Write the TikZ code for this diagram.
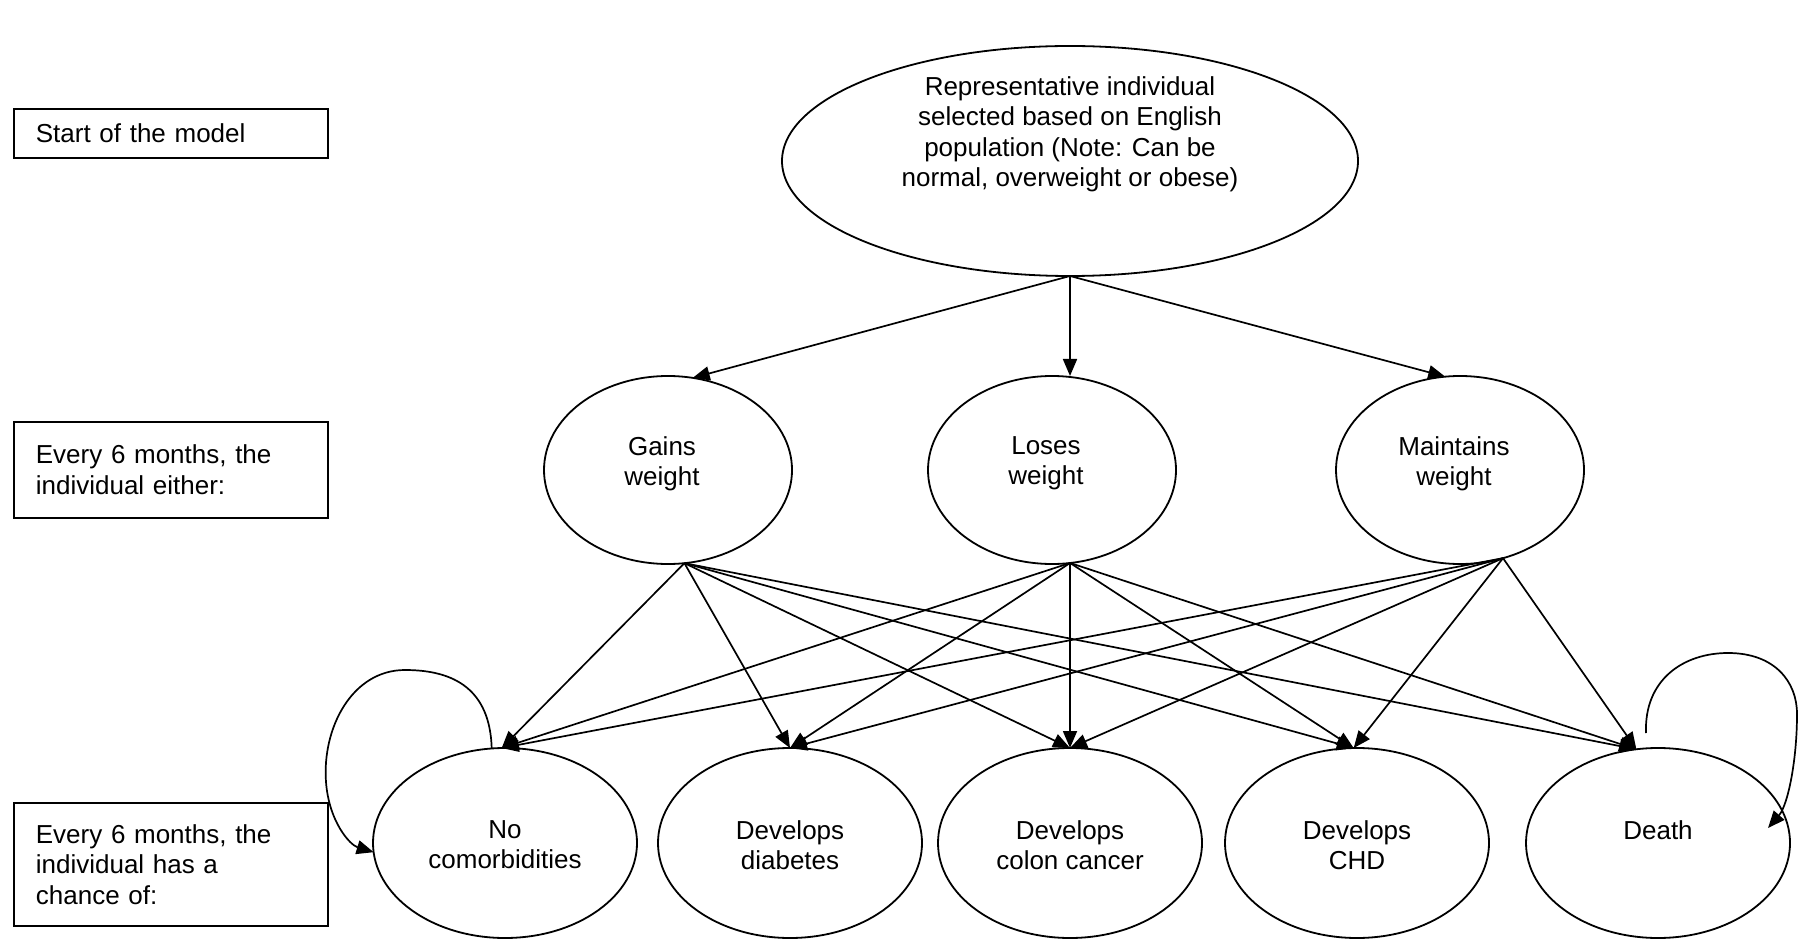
\documentclass[tikz,border=0pt]{standalone}
\usepackage{fontspec}
\setsansfont{Liberation Sans}
\usepackage{tikz}
\usetikzlibrary{shapes.geometric, arrows.meta}
\tikzset{
    oval/.style={ellipse, draw, line width=0.9pt, inner sep=0pt, outer sep=0pt},
    topoval/.style={oval, minimum width=288pt, minimum height=115pt},
    midoval/.style={oval, minimum width=124pt, minimum height=94pt},
    lowoval/.style={oval, minimum width=132pt, minimum height=95pt},
    ovaltext/.style={anchor=north, align=center, inner sep=0pt, font=\sffamily\fontsize{13}{15.25}\selectfont},
    notebox/.style={rectangle, draw, line width=0.9pt, anchor=north west, text width=135pt, inner xsep=11pt, inner ysep=0pt, align=left, font=\sffamily\fontsize{13}{15.25}\selectfont},
    flow/.style={-{Triangle[length=8.5pt, width=7pt]}, line width=0.85pt}
}

\begin{document}
\begin{tikzpicture}[x=0.5pt, y=-0.5pt]
    \useasboundingbox (0,0) rectangle (1798,946);

    % --- LEFT-HAND NOTES ---
    \node[notebox, minimum height=24.5pt] (start) at (13,108) {Start of the model};
    \node[notebox, minimum height=48pt] (either) at (13,421) {Every 6 months, the\\ individual either:};
    \node[notebox, minimum height=61.5pt] (chance) at (13,802) {Every 6 months, the\\ individual has a\\ chance of:};

    % --- START OF THE MODEL ---
    \node[topoval] (rep) at (1070,161) {};
    \node[ovaltext] (reptext) at (1070,76) {Representative individual\\ selected based on English\\ population (Note: Can be\\ normal, overweight or obese)};

    % --- WEIGHT CHANGE EVERY 6 MONTHS ---
    \node[midoval] (gains) at (668,470) {};
    \node[midoval] (loses) at (1052,470) {};
    \node[midoval] (maint) at (1460,470) {};
    \node[ovaltext] (gainstext) at (662,436) {Gains\\ weight};
    \node[ovaltext] (losestext) at (1046,436) {Loses\\ weight};
    \node[ovaltext] (mainttext) at (1454,436) {Maintains\\ weight};

    % --- OUTCOMES ---
    \node[lowoval] (noc) at (505,843) {};
    \node[lowoval] (diab) at (790,843) {};
    \node[lowoval] (colon) at (1070,843) {};
    \node[lowoval] (chd) at (1357,843) {};
    \node[lowoval] (death) at (1658,843) {};
    \node[ovaltext] (noctext) at (505,820) {No\\ comorbidities};
    \node[ovaltext] (diabtext) at (790,820) {Develops\\ diabetes};
    \node[ovaltext] (colontext) at (1070,820) {Develops\\ colon cancer};
    \node[ovaltext] (chdtext) at (1357,820) {Develops\\ CHD};
    \node[ovaltext] (deathtext) at (1658,820) {Death};

    % Start -> weight change
    \draw[flow] (rep.south) -- (gains.75);
    \draw[flow] (rep.south) -- (rep.south |- loses.north);
    \draw[flow] (rep.south) -- (maint.99);

    % Weight change -> every outcome
    \foreach \src/\sa in {gains/280, loses/281, maint/296}
        \foreach \dst/\da in {noc/92, diab/90, colon/90, chd/92, death/103}
            \draw[flow] (\src.\sa) -- (\dst.\da);

    % Staying in the same state
    \draw[flow] (noc.98) .. controls (490,690) and (455,670) .. (405,670)
        .. controls (352,670) and (322,728) .. (326,782)
        .. controls (329,822) and (350,845) .. (noc.184);
    \coordinate (deathloop) at (1646,733);
    \coordinate (deathin) at (1768,828);
    \draw[flow] (deathloop) .. controls (1644,680) and (1683,653) .. (1728,653)
        .. controls (1775,653) and (1797,682) .. (1797,714)
        .. controls (1797,760) and (1788,805) .. (deathin);

\end{tikzpicture}
\end{document}
